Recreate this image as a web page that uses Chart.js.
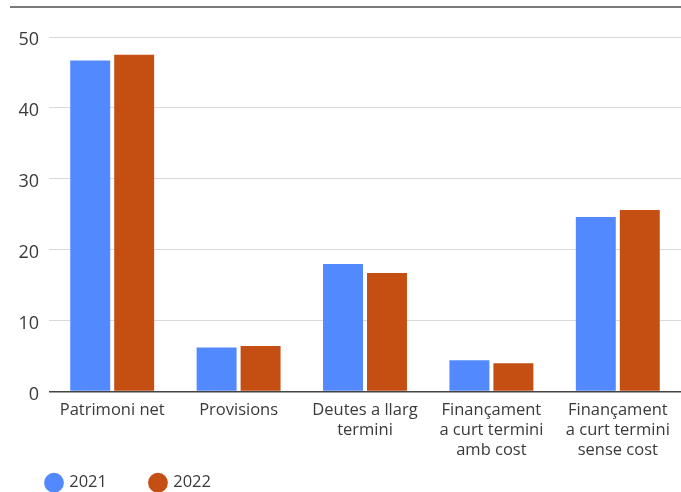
<!DOCTYPE html>
<html>
<head>
<meta charset="utf-8">
<script src="https://cdn.jsdelivr.net/npm/chart.js@4/dist/chart.umd.min.js"></script>
<style>
  html, body { margin: 0; padding: 0; background: #fff; }
  #wrap { position: relative; width: 681px; height: 492px; }
  #topline { position: absolute; left: 10px; top: 6px; width: 671px; height: 2px; background: #7a7a7a; }
  canvas { position: absolute; left: 0; top: 0; }
</style>
</head>
<body>
<div id="wrap">
  <canvas id="c" width="681" height="492"></canvas>
  <div id="topline"></div>
</div>
<script>
const categories = [
  ["Patrimoni net"],
  ["Provisions"],
  ["Deutes a llarg", "termini"],
  ["Finançament", "a curt termini", "amb cost"],
  ["Finançament", "a curt termini", "sense cost"]
];
const seriesNames = ["2021", "2022"];
const values2021 = [46.7, 6.2, 18.0, 4.4, 24.6];
const values2022 = [47.5, 6.4, 16.7, 4.0, 25.6];
const yTicks = [0, 10, 20, 30, 40, 50];

const FONT = "'Open Sans', sans-serif";
const TEXT = '#3a3a3a';

const legendShift = {
  id: 'legendShift',
  afterLayout(chart) {
    const l = chart.legend;
    if (l) { l.top -= 31; l.bottom -= 31; }
  }
};

new Chart(document.getElementById('c'), {
  type: 'bar',
  data: {
    labels: categories,
    datasets: [
      { label: seriesNames[0], data: values2021, backgroundColor: '#5289ff', categoryPercentage: 0.6957, barPercentage: 0.909 },
      { label: seriesNames[1], data: values2022, backgroundColor: '#c54e13', categoryPercentage: 0.6957, barPercentage: 0.909 }
    ]
  },
  plugins: [legendShift],
  options: {
    responsive: false,
    animation: false,
    devicePixelRatio: 1,
    layout: { padding: { top: 37, left: 3, right: 0, bottom: -40 } },
    plugins: {
      tooltip: { enabled: false },
      legend: {
        position: 'bottom',
        align: 'start',
        labels: {
          usePointStyle: true,
          pointStyle: 'circle',
          boxWidth: 14,
          boxHeight: 14,
          padding: 44,
          color: TEXT,
          font: { family: FONT, size: 16.5 }
        }
      }
    },
    scales: {
      x: {
        grid: { display: false, drawTicks: false },
        border: { display: false },
        ticks: { color: TEXT, font: { family: FONT, size: 16.5 }, padding: 9, maxRotation: 0, autoSkip: false },
        afterFit: (s) => { s.height = 70; }
      },
      y: {
        min: 0, max: 50,
        afterBuildTicks: (s) => { s.ticks = yTicks.map(v => ({ value: v })); },
        grid: {
          drawTicks: false,
          color: (ctx) => ctx.tick && ctx.tick.value === 0 ? '#444444' : '#d9d9d9',
          lineWidth: (ctx) => ctx.tick && ctx.tick.value === 0 ? 1.5 : 1
        },
        border: { display: false },
        ticks: { color: TEXT, font: { family: FONT, size: 18 }, padding: 10, labelOffset: 3 },
        afterFit: (s) => { s.width = 46; }
      }
    }
  }
});
</script>
</body>
</html>
